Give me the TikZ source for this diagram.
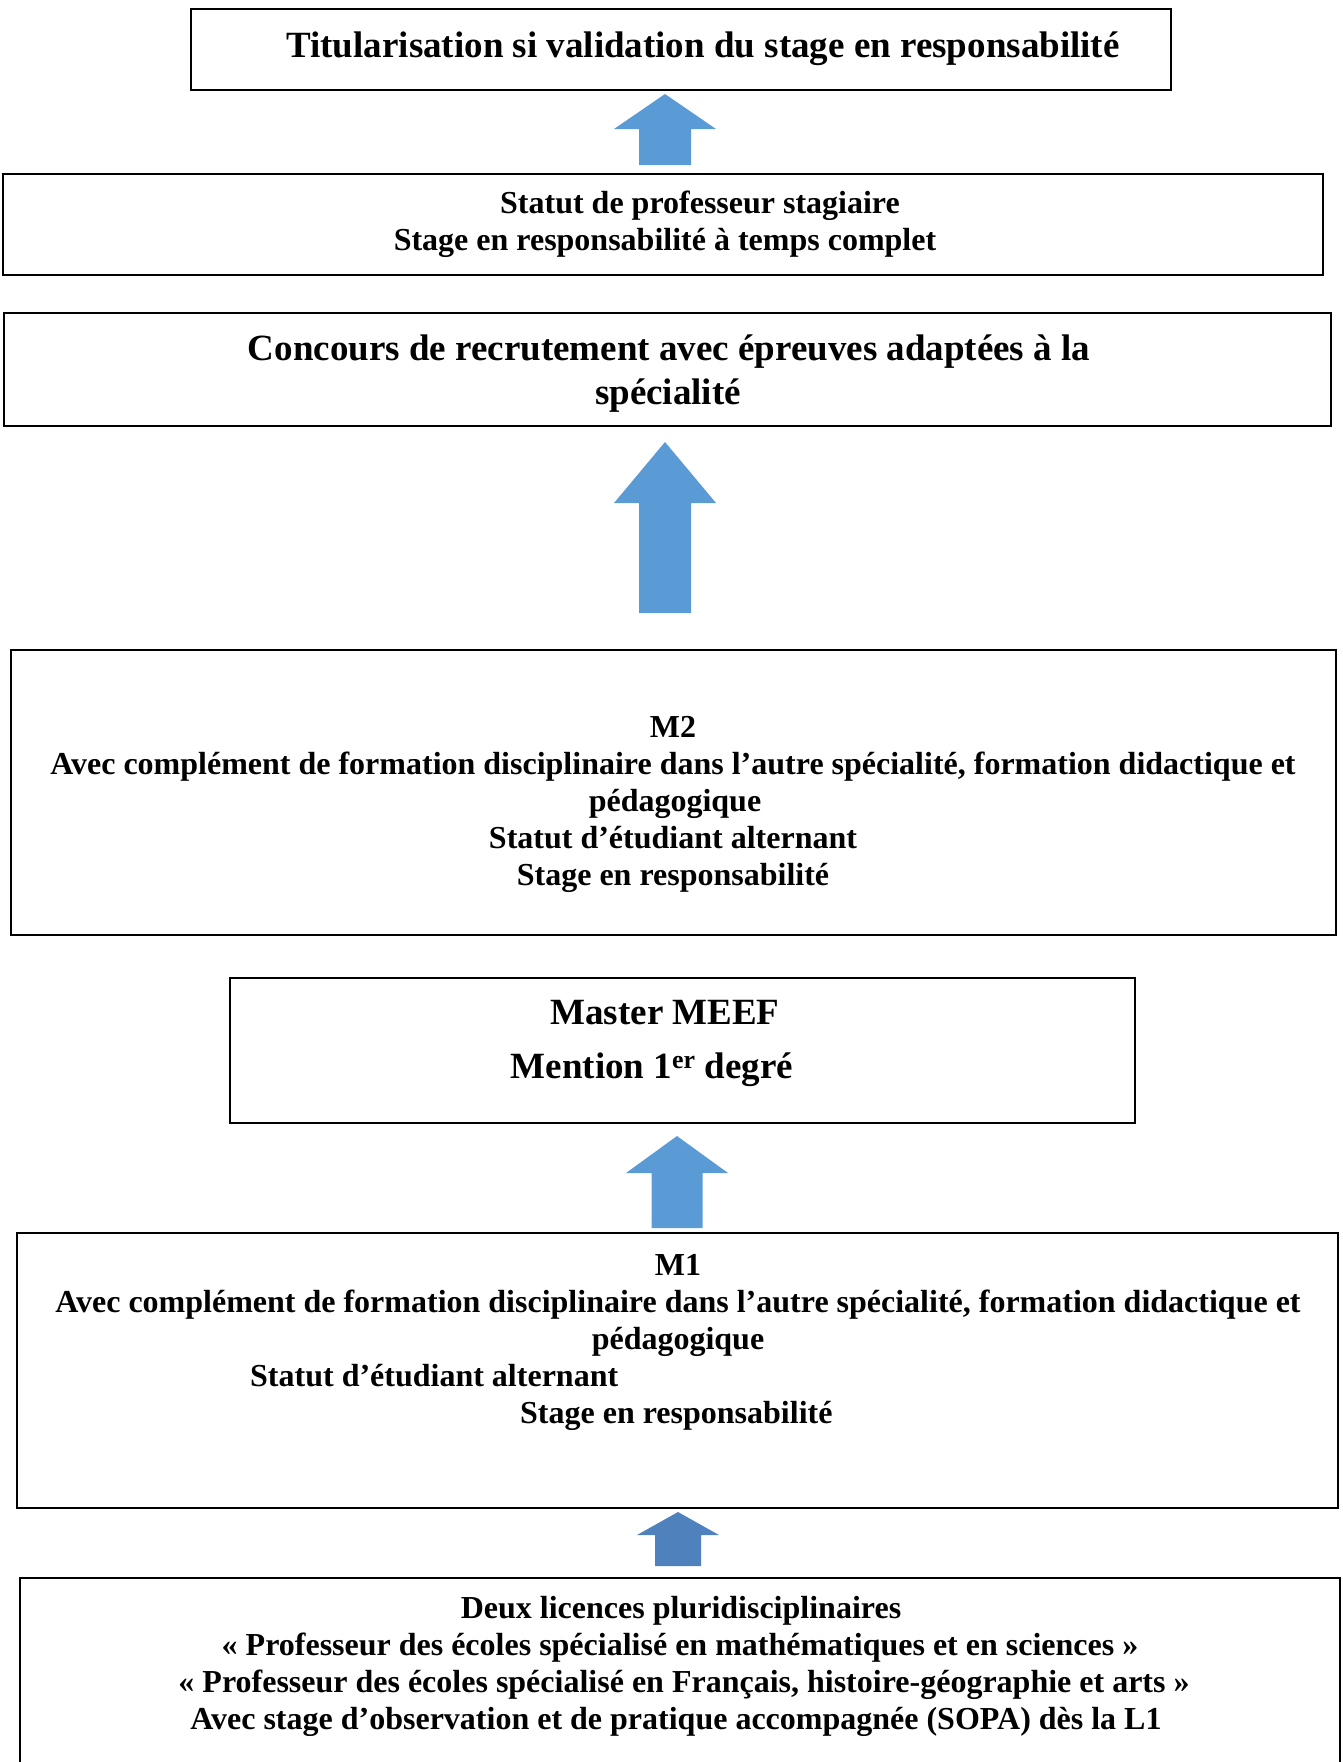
\documentclass[tikz,border=0pt]{standalone}
\usepackage{fontspec}
\setmainfont{Liberation Serif}
\definecolor{arrowblue}{HTML}{5B9BD5}
\definecolor{arrowdark}{HTML}{4F81BD}
\tikzset{
  box/.style={draw=black, line width=2.4pt, inner sep=0pt, rectangle},
  big/.style={font=\fontsize{37}{44}\selectfont\bfseries, inner sep=0pt, anchor=base},
  small/.style={font=\fontsize{32}{37}\selectfont\bfseries, inner sep=0pt, anchor=base},
}
% block arrow: centre x, tip y, shoulder y, base y, half head width, half shaft width, colour
\newcommand{\blockarrow}[7]{%
  \fill[#7] (#1-#6,#4) -- (#1-#6,#3) -- (#1-#5,#3) -- (#1,#2)
    -- (#1+#5,#3) -- (#1+#6,#3) -- (#1+#6,#4) -- cycle;}
\begin{document}
\begin{tikzpicture}[x=1pt,y=-1pt]
\useasboundingbox (0,0) rectangle (1342,1762);
\fill[white] (0,0) rectangle (1342,1762);

% boxes
\node[box, minimum width=980pt, minimum height=81pt] (b1) at (681,49.5) {};
\node[box, minimum width=1320pt, minimum height=101pt] (b2) at (663,224.5) {};
\node[box, minimum width=1327pt, minimum height=113pt] (b3) at (667.5,369.5) {};
\node[box, minimum width=1325pt, minimum height=285pt] (b4) at (673.5,792.5) {};
\node[box, minimum width=905pt, minimum height=145pt] (b5) at (682.5,1050.5) {};
\node[box, minimum width=1321pt, minimum height=275pt] (b6) at (677.5,1370.5) {};
\node[box, minimum width=1320pt, minimum height=212pt] (b7) at (680,1684) {};

% block arrows between the boxes
\blockarrow{665}{94}{129}{165}{51}{26}{arrowblue}
\blockarrow{665}{442}{503}{613}{51}{26}{arrowblue}
\blockarrow{677}{1136}{1173}{1228}{51}{25.5}{arrowblue}
\blockarrow{678}{1512}{1535}{1566}{41}{23}{arrowdark}

% texts
\node[big] (t1) at (703,57) {Titularisation si validation du stage en responsabilité};

\node[small] (t2a) at (700,213) {Statut de professeur stagiaire};
\node[small] (t2b) at (665,250) {Stage en responsabilité à temps complet};

\node[big] (t3a) at (669,360) {Concours de recrutement avec épreuves adaptées à la};
\node[big] (t3b) at (668,404) {spécialité};

\node[small] (t4a) at (673,737) {M2};
\node[small] (t4b) at (673,774) {Avec complément de formation disciplinaire dans l’autre spécialité, formation didactique et};
\node[small] (t4c) at (675,811) {pédagogique};
\node[small] (t4d) at (673,848) {Statut d’étudiant alternant};
\node[small] (t4e) at (673,885) {Stage en responsabilité};

\node[big] (t5a) at (665,1024) {Master MEEF};
\node[big] (t5b) at (652,1078) {Mention 1\textsuperscript{er} degré};

\node[small] (t6a) at (678,1275) {M1};
\node[small] (t6b) at (678,1312) {Avec complément de formation disciplinaire dans l’autre spécialité, formation didactique et};
\node[small] (t6c) at (678,1349) {pédagogique};
\node[small, anchor=base west] (t6d) at (250,1386) {Statut d’étudiant alternant};
\node[small, anchor=base west] (t6e) at (520,1423) {Stage en responsabilité};

\node[small] (t7a) at (681,1618) {Deux licences pluridisciplinaires};
\node[small] (t7b) at (680,1655) {« Professeur des écoles spécialisé en mathématiques et en sciences »};
\node[small] (t7c) at (684,1692) {« Professeur des écoles spécialisé en Français, histoire-géographie et arts »};
\node[small] (t7d) at (676,1729) {Avec stage d’observation et de pratique accompagnée (SOPA) dès la L1};
\end{tikzpicture}
\end{document}
